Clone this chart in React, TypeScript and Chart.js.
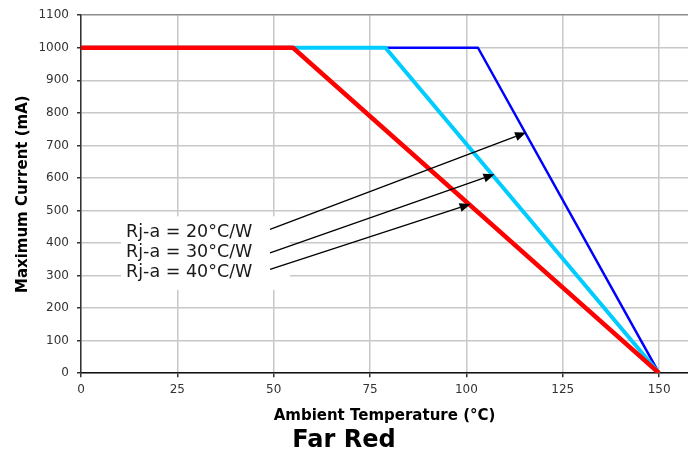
import React, { useEffect, useRef } from "react";
import { Chart, registerables } from "chart.js";

Chart.register(...registerables);

// ---- data ----
const xTickValues = [0, 25, 50, 75, 100, 125, 150];
const yMax = 1100;
const xMax = 157.5;

const red40X = [0, 55, 150];
const red40Y = [1000, 1000, 0];
const cyan30X = [0, 79, 150];
const cyan30Y = [1000, 1000, 0];
const blue20X = [0, 103, 150];
const blue20Y = [1000, 1000, 0];

const annotationLabels = ["Rj-a = 20°C/W", "Rj-a = 30°C/W", "Rj-a = 40°C/W"];
const labelX = 11.7;
const labelY = [418, 357, 296];
const labelBoxX = [10.4, 54.2];
const labelBoxY = [482, 256];
const arrowStartX = [49.05, 49.05, 49.05];
const arrowStartY = [441.6, 370, 319];
const arrowEndX = [115.5, 107.3, 101.1];
const arrowEndY = [739.4, 611.2, 519.7];

const FONT = "'DejaVu Sans', Verdana, sans-serif";

function pts(xs: number[], ys: number[]) {
  return xs.map((x, i) => ({ x, y: ys[i] }));
}

const annotationPlugin = {
  id: "annotations",
  beforeDatasetsDraw(chart: any) {
    const { ctx, scales } = chart;
    const xs = scales.x, ys = scales.y;
    ctx.save();
    const x0 = xs.getPixelForValue(labelBoxX[0]);
    const x1 = xs.getPixelForValue(labelBoxX[1]);
    const y0 = ys.getPixelForValue(labelBoxY[0]);
    const y1 = ys.getPixelForValue(labelBoxY[1]);
    ctx.fillStyle = "#ffffff";
    ctx.fillRect(x0, y0, x1 - x0, y1 - y0);
    ctx.fillStyle = "#1a1a1a";
    ctx.font = `17.5px ${FONT}`;
    ctx.textAlign = "left";
    ctx.textBaseline = "alphabetic";
    annotationLabels.forEach((t, i) => {
      ctx.fillText(t, xs.getPixelForValue(labelX), ys.getPixelForValue(labelY[i]));
    });
    ctx.restore();
  },
  afterDatasetsDraw(chart: any) {
    const { ctx, scales } = chart;
    const xs = scales.x, ys = scales.y;
    ctx.save();
    ctx.strokeStyle = "#000";
    ctx.fillStyle = "#000";
    ctx.lineWidth = 1.3;
    arrowStartX.forEach((sx, i) => {
      const ax = xs.getPixelForValue(sx);
      const ay = ys.getPixelForValue(arrowStartY[i]);
      const bx = xs.getPixelForValue(arrowEndX[i]);
      const by = ys.getPixelForValue(arrowEndY[i]);
      const ang = Math.atan2(by - ay, bx - ax);
      const hl = 11, hw = 4.5;
      const baseX = bx - hl * Math.cos(ang);
      const baseY = by - hl * Math.sin(ang);
      ctx.beginPath();
      ctx.moveTo(ax, ay);
      ctx.lineTo(baseX, baseY);
      ctx.stroke();
      ctx.beginPath();
      ctx.moveTo(bx, by);
      ctx.lineTo(baseX + hw * Math.sin(ang), baseY - hw * Math.cos(ang));
      ctx.lineTo(baseX - hw * Math.sin(ang), baseY + hw * Math.cos(ang));
      ctx.closePath();
      ctx.fill();
    });
    ctx.restore();
  },
};

export default function App() {
  const ref = useRef<HTMLCanvasElement>(null);
  useEffect(() => {
    if (!ref.current) return;
    const chart = new Chart(ref.current, {
      type: "line",
      data: {
        datasets: [
          {
            label: "40°C/W",
            data: pts(red40X, red40Y),
            borderColor: "#ff0000",
            borderWidth: 4.5,
            pointRadius: 0,
            borderJoinStyle: "round",
          },
          {
            label: "30°C/W",
            data: pts(cyan30X, cyan30Y),
            borderColor: "#00ccff",
            borderWidth: 4,
            pointRadius: 0,
            borderJoinStyle: "round",
          },
          {
            label: "20°C/W",
            data: pts(blue20X, blue20Y),
            borderColor: "#0000ff",
            borderWidth: 2.5,
            pointRadius: 0,
            borderJoinStyle: "round",
          },
        ],
      },
      options: {
        animation: false,
        responsive: false,
        layout: { padding: { top: 12, left: 0, right: 0, bottom: 0 } },
        plugins: {
          legend: { display: false },
          tooltip: { enabled: false },
          title: {
            display: true,
            text: "Far Red",
            position: "bottom",
            color: "#000",
            font: { family: FONT, size: 24, weight: "bold" },
            padding: { top: 0, bottom: 2 },
          },
        },
        scales: {
          x: {
            type: "linear",
            min: 0,
            max: xMax,
            afterBuildTicks: (s: any) => {
              s.ticks = xTickValues.map((v) => ({ value: v }));
            },
            afterFit: (s: any) => {
              s.height = 53;
            },
            grid: { color: "#c8c8c8", lineWidth: 1.5, tickLength: 4, tickColor: "#333" },
            border: { color: "#111", width: 1.5 },
            ticks: {
              color: "#333",
              font: { family: FONT, size: 12 },
              padding: 5,
              maxRotation: 0,
              callback: (v: any) => String(v),
            },
            title: {
              display: true,
              text: "Ambient Temperature (°C)",
              color: "#000",
              font: { family: FONT, size: 15, weight: "bold" },
              padding: { top: 0, bottom: 1 },
            },
          },
          y: {
            min: 0,
            max: yMax,
            afterFit: (s: any) => {
              s.width = 81;
            },
            grid: {
              color: (c: any) => (c.tick && c.tick.value === yMax ? "#8c8c8c" : "#c8c8c8"),
              lineWidth: 1.5,
              tickLength: 4,
              tickColor: "#333",
            },
            border: { color: "#333", width: 1.5 },
            ticks: {
              color: "#333",
              font: { family: FONT, size: 12 },
              padding: 8,
              stepSize: 100,
              callback: (v: any) => String(v),
            },
            title: {
              display: true,
              text: "Maximum Current (mA)",
              color: "#000",
              font: { family: FONT, size: 15, weight: "bold" },
              padding: { top: 14, bottom: 0 },
            },
          },
        },
      },
      plugins: [annotationPlugin],
    } as any);
    return () => chart.destroy();
  }, []);
  return (
    <div style={{ position: "absolute", left: 0, top: 0, width: 688, height: 457 }}>
      <canvas ref={ref} width={688} height={457} style={{ width: 688, height: 457 }} />
    </div>
  );
}
